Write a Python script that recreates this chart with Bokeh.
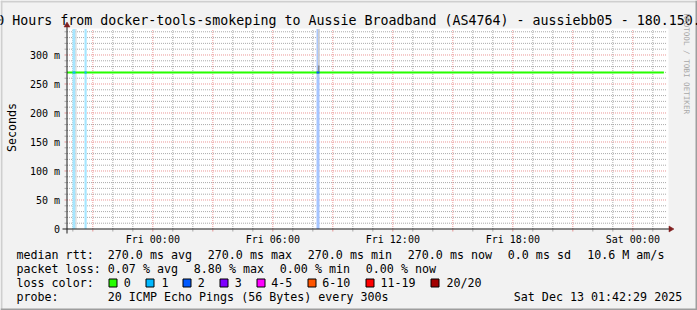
import math
import pandas as pd
from bokeh.plotting import figure
from bokeh.models import Range1d, Label, BoxAnnotation, PolyAnnotation
from bokeh.core.properties import value
from bokeh.embed import file_html
from bokeh.resources import INLINE

# ---------------- data ----------------
title_text = "30 Hours from docker-tools-smokeping to Aussie Broadband (AS4764) - aussiebb05 - 180.150."
y_axis_title = "Seconds"
watermark = "RRDTOOL / TOBI OETIKER"
start_time = "2025-12-11 19:42:29"
end_time = "2025-12-13 01:42:29"
y_top = 344.8  # ms, upper limit of the value axis

y_ticks = [0, 50, 100, 150, 200, 250, 300]
y_tick_labels = ["0", "50 m", "100 m", "150 m", "200 m", "250 m", "300 m"]
x_label_times = ["2025-12-12 00:00", "2025-12-12 06:00", "2025-12-12 12:00",
                 "2025-12-12 18:00", "2025-12-13 00:00"]
x_tick_labels = ["Fri 00:00", "Fri 06:00", "Fri 12:00", "Fri 18:00", "Sat 00:00"]

median_times = ["2025-12-11 19:42:29", "2025-12-13 01:33:00"]
median_ms = [270.0, 270.0]

loss_start = ["2025-12-11 19:59:00", "2025-12-11 20:35:00", "2025-12-12 08:11:00"]
loss_end = ["2025-12-11 20:08:00", "2025-12-11 20:41:30", "2025-12-12 08:20:00"]
loss_pct = [5.0, 5.0, 8.8]
loss_median_ms = [270.0, 270.0, 270.0]

smoke_start = ["2025-12-11 20:08:00", "2025-12-12 08:15:00", "2025-12-12 08:15:00"]
smoke_end = ["2025-12-11 20:11:00", "2025-12-12 08:20:00", "2025-12-12 08:20:00"]
smoke_low = [0.0, 282.0, 270.0]
smoke_high = [360.0, 360.0, 282.0]
smoke_shade = ["#d2d2d2", "#cdcdcd", "#8c8c8c"]

loss_labels = ["0", "1", "2", "3", "4-5", "6-10", "11-19", "20/20"]
loss_colors = ["#26ff00", "#00b8ff", "#0059ff", "#7e00ff", "#ff00ff", "#ff5500", "#ff0000", "#a10000"]
loss_class_upper = [0, 1, 2, 3, 5, 10, 19, 20]  # lost pings out of 20

legend_rtt = ["median rtt:", "270.0 ms avg", "270.0 ms max", "270.0 ms min",
              "270.0 ms now", "0.0 ms sd", "10.6 M am/s"]
legend_loss = ["packet loss:", "0.07 % avg", "8.80 % max", "0.00 % min", "0.00 % now"]
legend_color_title = "loss color:"
legend_probe = ["probe:", "20 ICMP Echo Pings (56 Bytes) every 300s"]
legend_date = "Sat Dec 13 01:42:29 2025"

# ---------------- layout constants (canvas pixels) ----------------
W, H = 697, 310
X0PX, X1PX = 66.5, 666.5   # where start / end time fall
Y0PX, YTPX = 228.5, 28.5   # where 0 and y_top fall
MONO = "DejaVu Sans Mono"
BL = 0.32                  # baseline correction (fraction of font size)

t0 = pd.Timestamp(start_time).timestamp() * 1000.0
t1 = pd.Timestamp(end_time).timestamp() * 1000.0
kx = (t1 - t0) / (X1PX - X0PX)          # ms of time per pixel
ky = y_top / (Y0PX - YTPX)              # value per pixel

x_range = Range1d(t0 - X0PX * kx, t1 + (W - X1PX) * kx)
y_range = Range1d(-(H - Y0PX) * ky, y_top + YTPX * ky)


def ms(rng):
    return [t.timestamp() * 1000.0 for t in rng]


three_h = ms(pd.date_range("2025-12-11 21:00", "2025-12-13 00:00", freq="3h"))
one_h = [v for v in ms(pd.date_range("2025-12-11 20:00", "2025-12-13 01:00", freq="1h"))
         if v not in three_h]
y_major = [v for v in y_ticks if v > 0]
y_minor = [v for v in range(10, int(y_top) + 1, 10) if v % 50]


def loss_color(pct):
    lost = round(pct / 100.0 * 20)
    for up, c in zip(loss_class_upper, loss_colors):
        if lost <= up:
            return c
    return loss_colors[-1]


def light(c, a=0.35):
    r, g, b = int(c[1:3], 16), int(c[3:5], 16), int(c[5:7], 16)
    f = lambda v: int(round(255 - a * (255 - v)))
    return "#%02x%02x%02x" % (f(r), f(g), f(b))


p = figure(width=W, height=H, output_backend="svg", toolbar_location=None,
           x_range=x_range, y_range=y_range,
           x_axis_location=None, y_axis_location=None,
           min_border_left=0, min_border_right=0, min_border_top=0, min_border_bottom=0,
           background_fill_color="#f2f2f2", border_fill_color="#f2f2f2",
           outline_line_color=None)
p.xgrid.visible = False
p.ygrid.visible = False


def sbox(X0, X1, Y0, Y1, fill, line=None, lw=1, level="overlay"):
    p.add_layout(BoxAnnotation(left=X0, right=X1, top=H - Y0, bottom=H - Y1,
                               left_units="screen", right_units="screen",
                               top_units="screen", bottom_units="screen",
                               fill_color=fill, fill_alpha=1.0,
                               line_color=line if line else "#000000", line_width=lw,
                               line_alpha=1.0 if line else 0.0, level=level))


def tri(pts, color):
    p.add_layout(PolyAnnotation(xs=[a for a, b in pts], ys=[H - b for a, b in pts],
                                xs_units="screen", ys_units="screen",
                                fill_color=color, fill_alpha=1.0, line_color=color,
                                line_alpha=1.0, line_width=0.5, level="overlay"))


def text(X, Y, s, size=11.66, align="left", angle=0.0, color="#000000"):
    # Y is the wanted baseline (for rotated text: X is the baseline)
    d = BL * size
    if angle > 0:
        X = X - d
    elif angle < 0:
        X = X + d
    else:
        Y = Y - d
    p.add_layout(Label(x=X, y=H - Y, x_units="screen", y_units="screen", text=s,
                       text_font=MONO, text_font_size="%.2fpx" % size, text_align=align,
                       text_baseline="alphabetic", angle=angle, text_color=color,
                       level="overlay"))


# plot canvas
sbox(67, 668, 28, 228, "#ffffff", level="underlay")

# grid (drawn through the scales)
GRID = dict(line_color="#8f8f8f", line_alpha=0.75, line_dash="1 1", line_width=1)
MGRID = dict(line_color="#de5050", line_alpha=0.6, line_dash="1 1", line_width=1)
p.segment(x0=one_h, x1=one_h, y0=0, y1=y_top, **GRID)
p.segment(x0=t0, x1=t1, y0=y_minor, y1=y_minor, **GRID)
p.segment(x0=three_h, x1=three_h, y0=0, y1=y_top, **MGRID)
p.segment(x0=t0, x1=t1, y0=y_major, y1=y_major, **MGRID)
# ticks outside the axes (2 px)
p.segment(x0=three_h, x1=three_h, y0=-0.5 * ky, y1=-2.5 * ky, line_color="#de5050", line_alpha=0.6)
p.segment(x0=one_h, x1=one_h, y0=-0.5 * ky, y1=-2.5 * ky, line_color="#8f8f8f", line_alpha=0.75)
p.segment(x0=t0 - 0.5 * kx, x1=t0 - 2.5 * kx, y0=y_major, y1=y_major, line_color="#de5050", line_alpha=0.6)
p.segment(x0=t0 - 0.5 * kx, x1=t0 - 2.5 * kx, y0=y_minor, y1=y_minor, line_color="#8f8f8f", line_alpha=0.75)

# ---------------- data marks ----------------
ls = pd.to_datetime(loss_start)
le = pd.to_datetime(loss_end)
lc = [loss_color(v) for v in loss_pct]
p.quad(left=ls, right=le, bottom=0, top=y_top, fill_color=[light(c) for c in lc],
       line_color=None)
p.quad(left=pd.to_datetime(smoke_start), right=pd.to_datetime(smoke_end),
       bottom=smoke_low, top=[min(v, y_top) for v in smoke_high],
       fill_color=smoke_shade, line_color=None)
p.line(pd.to_datetime(median_times), median_ms, line_color=loss_colors[0], line_width=2)
p.segment(x0=ls, x1=le, y0=loss_median_ms, y1=loss_median_ms, line_color=lc, line_width=2)

# tick labels through the scales
p.text(x=ms(pd.to_datetime(x_label_times)), y=[0] * len(x_label_times), text=x_tick_labels,
       text_font=value(MONO), text_font_size=value("10px"), text_align="center",
       text_baseline="alphabetic", y_offset=13.3 - BL * 10, text_color="#000000")
p.text(x=[t0] * len(y_ticks), y=y_ticks, text=y_tick_labels,
       text_font=value(MONO), text_font_size=value("10px"), text_align="right",
       text_baseline="alphabetic", x_offset=-7.0, y_offset=3.6 - BL * 10, text_color="#000000")

# ---------------- decorations ----------------
AX = "#1f1f1f"
ARROW = "#801f1f"
sbox(66, 67, 24, 233, AX)
sbox(62, 671, 228, 229, AX)
tri([(668.5, 225.5), (668.5, 231.5), (673.5, 228.5)], ARROW)
tri([(63.5, 26.5), (69.5, 26.5), (66.5, 21.5)], ARROW)

# 3d border
sbox(0, W, 0, 2, "#cfcfcf")
sbox(0, 2, 0, H, "#cfcfcf")
sbox(W - 2, W, 0, H, "#9e9e9e")
sbox(0, W, H - 2, H, "#9e9e9e")

text(-12.3, 24, title_text, size=13.3)
text(15, 127, y_axis_title, align="center", angle=math.pi / 2)
text(683.5, 13, watermark, size=7.6, angle=-math.pi / 2, color="#a8a8a8")

for X, s in zip([16, 107.3, 207.3, 307.3, 407.3, 507.3, 586.7], legend_rtt):
    text(X, 258, s)
for X, s in zip([16, 107.3, 193.3, 279.3, 365.3], legend_loss):
    text(X, 272, s)
text(16, 286, legend_color_title)
for X, LX, s, c in zip([108, 145, 182, 219, 256, 307, 365, 430],
                       [123.3, 161, 197.3, 234.3, 270.7, 321.7, 380, 446],
                       loss_labels, loss_colors):
    sbox(X + 0.5, X + 8.5, 278.5, 286.5, c, line="#000000", lw=1)
    text(LX, 286, s)
for X, s in zip([16, 107.3], legend_probe):
    text(X, 300, s)
text(513.3, 300, legend_date)

open("out.html", "w").write(file_html(p, INLINE))
